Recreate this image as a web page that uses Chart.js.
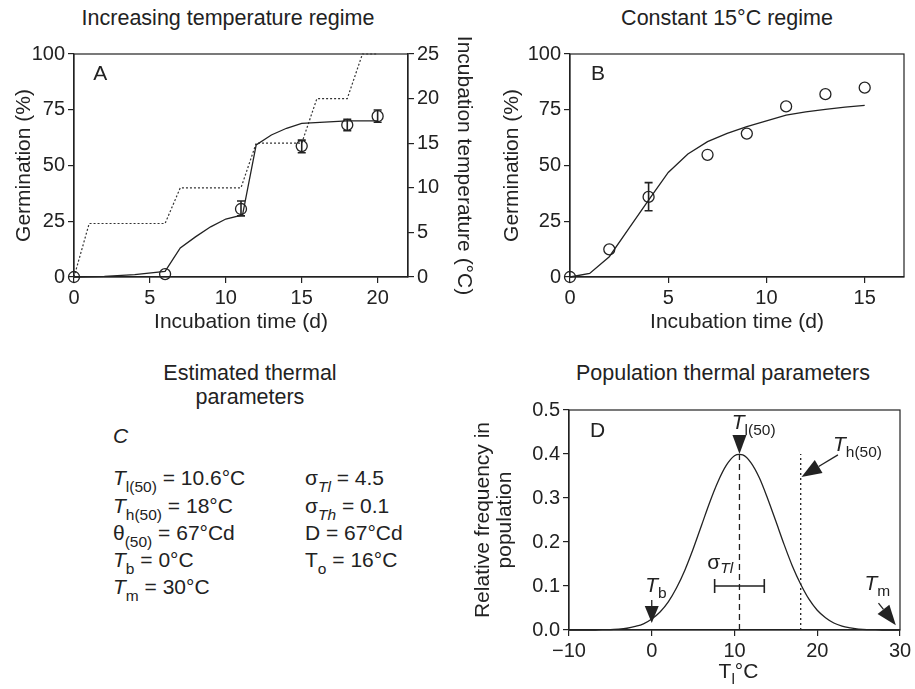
<!DOCTYPE html>
<html>
<head>
<meta charset="utf-8">
<script src="https://cdn.jsdelivr.net/npm/chart.js@4.4.1/dist/chart.umd.min.js"></script>
<style>
  body { margin: 0; width: 915px; height: 689px; position: relative; overflow: hidden; background: #fff;
         font-family: "Liberation Sans", Arial, sans-serif; color: #222; }
  canvas { position: absolute; }
  .ttl { position: absolute; font-size: 21.5px; line-height: 24px; white-space: nowrap; transform: translateX(-50%); text-align: center; }
  .par { position: absolute; font-size: 21px; line-height: 24px; white-space: nowrap; }
  .par sub { font-size: 15.5px; line-height: 0; vertical-align: -7px; }
  .par i { font-style: italic; }
</style>
</head>
<body>
<div class="ttl" style="left:228px;top:6px">Increasing temperature regime</div>
<div class="ttl" style="left:727px;top:6px">Constant 15°C regime</div>
<div class="ttl" style="left:250px;top:361px">Estimated thermal<br>parameters</div>
<div class="ttl" style="left:723px;top:361px">Population thermal parameters</div>

<div class="par" style="left:113px;top:424px"><i>C</i></div>
<div class="par" style="left:113px;top:466px"><i>T</i><sub>l(50)</sub> = 10.6°C</div>
<div class="par" style="left:113px;top:494px"><i>T</i><sub>h(50)</sub> = 18°C</div>
<div class="par" style="left:113px;top:521px">θ<sub>(50)</sub> = 67°Cd</div>
<div class="par" style="left:113px;top:548px"><i>T</i><sub>b</sub> = 0°C</div>
<div class="par" style="left:113px;top:575px"><i>T</i><sub>m</sub> = 30°C</div>
<div class="par" style="left:305px;top:466px">σ<sub><i>Tl</i></sub> = 4.5</div>
<div class="par" style="left:305px;top:494px">σ<sub><i>Th</i></sub> = 0.1</div>
<div class="par" style="left:305px;top:521px">D = 67°Cd</div>
<div class="par" style="left:305px;top:548px">T<sub>o</sub> = 16°C</div>

<canvas id="chartA" width="480" height="340" style="left:0;top:0"></canvas>
<canvas id="chartB" width="435" height="340" style="left:480px;top:0"></canvas>
<canvas id="chartD" width="455" height="359" style="left:460px;top:330px"></canvas>

<script>
// ---- panel A: increasing temperature regime ----
const aObsDay  = [0, 6, 11, 15, 18, 20];
const aObsGerm = [0, 1.3, 30.5, 58.7, 68.2, 72.1];
const aErrLo   = [null, null, 27.4, 55.7, 65.6, 69.4];
const aErrHi   = [null, null, 34.1, 61.4, 70.7, 74.9];
const aFitDay  = [0, 2, 4, 6, 7, 8, 9, 10, 11.1, 12, 13, 14, 15, 18, 20];
const aFitGerm = [0, 0.3, 1.1, 2.5, 13, 18, 22.5, 26, 27.8, 59.2, 63.7, 66.7, 68.9, 70, 70];
const aTempDay = [0, 1, 6, 7, 11, 12, 15, 16, 18, 19, 20];
const aTempC   = [0, 6, 6, 10, 10, 15, 15, 20, 20, 25, 25];
const aXTicks  = [0, 5, 10, 15, 20];
const aYTicks  = [0, 25, 50, 75, 100];
const aY2Ticks = [0, 5, 10, 15, 20, 25];

// ---- panel B: constant 15 °C regime ----
const bObsDay  = [0, 2, 4, 7, 9, 11, 13, 15];
const bObsGerm = [0, 12.4, 35.9, 54.8, 64.3, 76.5, 82, 84.9];
const bErrLo   = [null, null, 29.7, null, null, null, null, null];
const bErrHi   = [null, null, 42.3, null, null, null, null, null];
const bFitDay  = [0, 1, 2, 3, 4, 5, 6, 7, 8, 9, 10, 11, 12, 13, 14, 15];
const bFitGerm = [0, 1.6, 9.1, 21.8, 34.5, 46.9, 55.2, 60.7, 64.4, 67.4, 70, 72.6, 74, 75.2, 76.2, 77];
const bXTicks  = [0, 5, 10, 15];

// ---- panel D: population thermal parameters ----
const dTemp = [-10, -9, -8, -7, -6, -5, -4, -3, -2, -1, 0, 1, 2, 3, 4, 5, 6, 7, 8, 9, 10, 10.6,
               11, 12, 13, 14, 15, 16, 17, 18, 19, 20, 21, 22, 23, 24, 25, 26, 27, 28, 29, 30];
const dFreq = [0, 0, 0, 0, 0.001, 0.001, 0.002, 0.004, 0.008, 0.014, 0.025, 0.041, 0.064, 0.096, 0.136, 0.184,
               0.237, 0.290, 0.337, 0.374, 0.396, 0.399, 0.398, 0.380, 0.346, 0.299, 0.247, 0.194, 0.145,
               0.104, 0.070, 0.045, 0.028, 0.016, 0.009, 0.005, 0.002, 0.001, 0.001, 0, 0, 0];
const dXTicks = [-10, 0, 10, 20, 30];
const dYTicks = [0, 0.1, 0.2, 0.3, 0.4, 0.5];
const tl50 = 10.6, th50 = 18, sigmaLo = 7.6, sigmaHi = 13.6;

const FONT = '"Liberation Sans", Arial, sans-serif';
const INK = '#222';
const tickFont = { family: FONT, size: 20 };
const titleFont = { family: FONT, size: 21, lineHeight: 1.2 };

const pts = (xs, ys) => xs.map((v, i) => ({ x: v, y: ys[i] }));

function axis(min, max, ticks, size, extra) {
  return Object.assign({
    type: 'linear', min: min, max: max,
    afterBuildTicks: s => { s.ticks = ticks.map(v => ({ value: v })); },
    afterFit: s => { if (s.isHorizontal()) s.height = size; else s.width = size; },
    grid: { display: true, drawOnChartArea: false, drawTicks: true, tickLength: 6, color: INK, lineWidth: 1.2 },
    border: { display: true, color: INK, width: 1.2 },
    ticks: { font: tickFont, color: INK, padding: 3, maxRotation: 0 }
  }, extra);
}

// frame around the plot area
const framePlugin = {
  id: 'frame',
  beforeDatasetsDraw(chart) {
    const { ctx, chartArea: a } = chart;
    ctx.save();
    ctx.strokeStyle = INK; ctx.lineWidth = 1.2;
    ctx.strokeRect(a.left, a.top, a.right - a.left, a.bottom - a.top);
    ctx.restore();
  }
};

function errorBars(xs, lo, hi) {
  return {
    id: 'errbars',
    afterDatasetsDraw(chart) {
      const { ctx, scales: { x, y } } = chart;
      ctx.save();
      ctx.strokeStyle = INK; ctx.lineWidth = 1.6;
      xs.forEach((v, i) => {
        if (lo[i] == null) return;
        const px = x.getPixelForValue(v), y1 = y.getPixelForValue(lo[i]), y2 = y.getPixelForValue(hi[i]);
        ctx.beginPath();
        ctx.moveTo(px, y1); ctx.lineTo(px, y2);
        ctx.moveTo(px - 4, y1); ctx.lineTo(px + 4, y1);
        ctx.moveTo(px - 4, y2); ctx.lineTo(px + 4, y2);
        ctx.stroke();
      });
      ctx.restore();
    }
  };
}

// text made of pieces with their own size / style / vertical shift
function rich(ctx, x, y, parts, align) {
  const fontOf = p => (p[2] ? 'italic ' : '') + p[1] + 'px ' + FONT;
  let w = 0;
  parts.forEach(p => { ctx.font = fontOf(p); w += ctx.measureText(p[0]).width; });
  let cx = align === 'center' ? x - w / 2 : x;
  ctx.textAlign = 'left'; ctx.textBaseline = 'alphabetic'; ctx.fillStyle = INK;
  parts.forEach(p => {
    ctx.font = fontOf(p);
    ctx.fillText(p[0], cx, y + (p[3] || 0));
    cx += ctx.measureText(p[0]).width;
  });
}

function letter(text, xv, yv, yAxis) {
  return {
    id: 'letter',
    afterDraw(chart) {
      const s = chart.scales;
      rich(chart.ctx, s.x.getPixelForValue(xv), s[yAxis || 'y'].getPixelForValue(yv), [[text, 21]]);
    }
  };
}

const circleSet = data => ({
  data: data, showLine: false, clip: false,
  pointStyle: 'circle', pointRadius: 5.5, borderWidth: 1.3,
  borderColor: INK, backgroundColor: 'rgba(0,0,0,0)'
});
const lineSet = data => ({
  data: data, showLine: true, clip: false, pointRadius: 0,
  borderColor: INK, borderWidth: 1.3, tension: 0
});

const common = {
  responsive: false, animation: false, events: [],
  plugins: { legend: { display: false }, tooltip: { enabled: false } }
};

// ---- chart A ----
new Chart(document.getElementById('chartA'), {
  type: 'line',
  data: {
    datasets: [
      Object.assign(circleSet(pts(aObsDay, aObsGerm)), { yAxisID: 'y' }),
      Object.assign(lineSet(pts(aFitDay, aFitGerm)), { yAxisID: 'y' }),
      Object.assign(lineSet(pts(aTempDay, aTempC)), { yAxisID: 'y2', borderDash: [2, 2], borderWidth: 1.2, borderColor: '#333' })
    ]
  },
  options: Object.assign({}, common, {
    layout: { padding: { top: 54, left: 0, right: 0, bottom: 0 } },
    scales: {
      x: axis(0, 22, aXTicks, 63, { title: { display: true, text: 'Incubation time (d)', font: titleFont, color: INK, padding: { top: 0, bottom: 5 } } }),
      y: axis(0, 100, aYTicks, 74, { position: 'left', title: { display: true, text: 'Germination (%)', font: titleFont, color: INK, padding: { top: 12, bottom: 0 } } }),
      y2: axis(0, 25, aY2Ticks, 72, { position: 'right', title: { display: true, text: 'Incubation temperature (°C)', font: titleFont, color: INK, padding: { top: 4, bottom: 0 } } })
    }
  }),
  plugins: [framePlugin, errorBars(aObsDay, aErrLo, aErrHi), letter('A', 1.27, 88.2)]
});

// ---- chart B ----
new Chart(document.getElementById('chartB'), {
  type: 'line',
  data: {
    datasets: [
      circleSet(pts(bObsDay, bObsGerm)),
      lineSet(pts(bFitDay, bFitGerm))
    ]
  },
  options: Object.assign({}, common, {
    layout: { padding: { top: 54, left: 0, right: 11, bottom: 0 } },
    scales: {
      x: axis(0, 17, bXTicks, 63, { title: { display: true, text: 'Incubation time (d)', font: titleFont, color: INK, padding: { top: 0, bottom: 5 } } }),
      y: axis(0, 100, aYTicks, 90, { position: 'left', title: { display: true, text: 'Germination (%)', font: titleFont, color: INK, padding: { top: 20, bottom: 0 } } })
    }
  }),
  plugins: [framePlugin, errorBars(bObsDay, bErrLo, bErrHi), letter('B', 1.07, 88.2)]
});

// ---- chart D ----
function arrow(ctx, x1, y1, x2, y2, headLen, half) {
  const ang = Math.atan2(y2 - y1, x2 - x1);
  const bx = x2 - headLen * Math.cos(ang), by = y2 - headLen * Math.sin(ang);
  if (headLen < Math.hypot(x2 - x1, y2 - y1) - 0.5) {
    ctx.beginPath(); ctx.moveTo(x1, y1); ctx.lineTo(bx, by); ctx.stroke();
  }
  ctx.beginPath();
  ctx.moveTo(x2, y2);
  ctx.lineTo(bx + half * Math.sin(ang), by - half * Math.cos(ang));
  ctx.lineTo(bx - half * Math.sin(ang), by + half * Math.cos(ang));
  ctx.closePath(); ctx.fill();
}

const popPlugin = {
  id: 'pop',
  afterDraw(chart) {
    const { ctx, chartArea: a, scales: { x, y } } = chart;
    const X = v => x.getPixelForValue(v), Y = v => y.getPixelForValue(v);
    ctx.save();
    ctx.strokeStyle = INK; ctx.fillStyle = INK; ctx.lineWidth = 1.3;
    // median lines
    ctx.setLineDash([6, 4]);
    ctx.beginPath(); ctx.moveTo(X(tl50), Y(0)); ctx.lineTo(X(tl50), Y(0.4)); ctx.stroke();
    ctx.setLineDash([2, 3]);
    ctx.beginPath(); ctx.moveTo(X(th50), Y(0)); ctx.lineTo(X(th50), Y(0.4)); ctx.stroke();
    ctx.setLineDash([]);
    // sigma bar
    ctx.lineWidth = 1.6;
    ctx.beginPath();
    ctx.moveTo(X(sigmaLo), Y(0.1)); ctx.lineTo(X(sigmaHi), Y(0.1));
    ctx.moveTo(X(sigmaLo), Y(0.1) - 7); ctx.lineTo(X(sigmaLo), Y(0.1) + 7);
    ctx.moveTo(X(sigmaHi), Y(0.1) - 7); ctx.lineTo(X(sigmaHi), Y(0.1) + 7);
    ctx.stroke();
    // arrows
    ctx.lineWidth = 1.3;
    arrow(ctx, X(tl50), Y(0.4) - 19, X(tl50), Y(0.4), 19, 7);
    arrow(ctx, X(0), Y(0.068), X(0), Y(0.016), 17, 7);
    arrow(ctx, X(22.5), Y(0.398), X(18.1), Y(0.348), 20, 7.5);
    arrow(ctx, X(27.4), Y(0.061), X(29.5), Y(0.011), 20, 7.5);
    // labels
    rich(ctx, X(-7.46), Y(0.438), [['D', 21]]);
    rich(ctx, X(9.67), Y(0.4557), [['T', 21, true], ['l(50)', 15.5, false, 6]]);
    rich(ctx, X(-0.8), Y(0.087), [['T', 21, true], ['b', 15.5, false, 6]]);
    rich(ctx, X(21.9), Y(0.4075), [['T', 21, true], ['h(50)', 15.5, false, 6]]);
    rich(ctx, X(25.7), Y(0.0909), [['T', 21, true], ['m', 15.5, false, 6]]);
    rich(ctx, X(6.72), Y(0.138), [['σ', 21], ['Tl', 15.5, true, 4]]);
    // x axis title
    rich(ctx, (a.left + a.right) / 2 + 4, 348, [['T', 21], ['l', 15.5, false, 6], ['°C', 21]], 'center');
    ctx.restore();
  }
};

new Chart(document.getElementById('chartD'), {
  type: 'line',
  data: {
    datasets: [
      Object.assign(lineSet(pts(dTemp, dFreq)), { cubicInterpolationMode: 'monotone' })
    ]
  },
  options: Object.assign({}, common, {
    layout: { padding: { top: 80, left: 0, right: 15, bottom: 0 } },
    scales: {
      x: axis(-10, 30, dXTicks, 59, { ticks: { font: tickFont, color: INK, padding: 3, maxRotation: 0,
            callback: v => String(v).replace('-', '\u2212') } }),
      y: axis(0, 0.5, dYTicks, 109, { position: 'left',
            ticks: { font: tickFont, color: INK, padding: 3, callback: v => v.toFixed(1) },
            title: { display: true, text: ['Relative frequency in', 'population'], font: { family: FONT, size: 21, lineHeight: 1.05 }, color: INK, padding: { top: 12, bottom: 0 } } })
    }
  }),
  plugins: [framePlugin, popPlugin]
});
</script>
</body>
</html>
